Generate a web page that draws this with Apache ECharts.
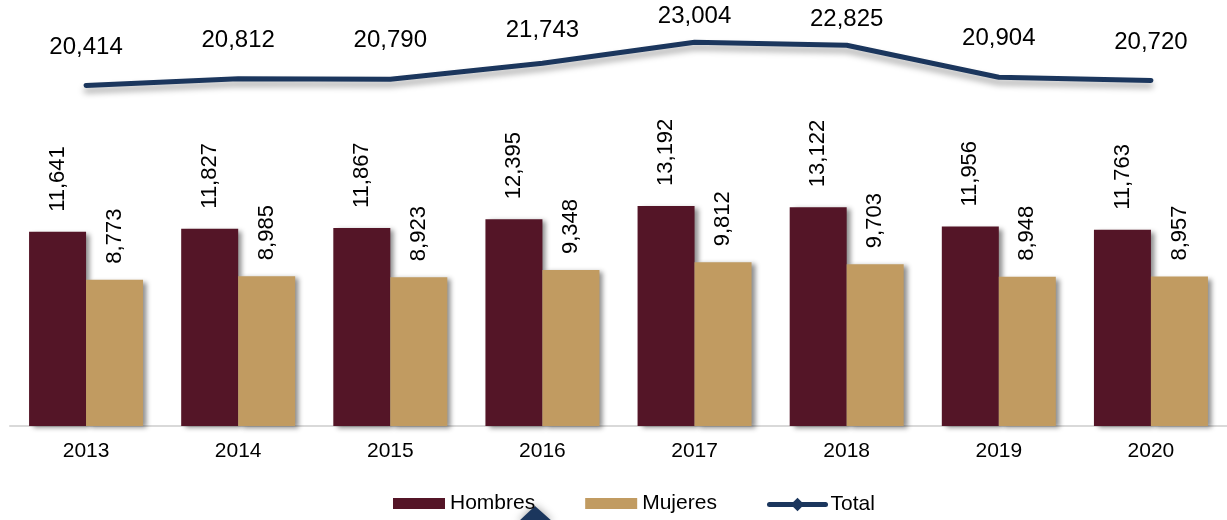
<!DOCTYPE html>
<html>
<head>
<meta charset="utf-8">
<script src="https://cdn.jsdelivr.net/npm/echarts@6/dist/echarts.min.js"></script>
<style>
    html, body { margin: 0; padding: 0; background: #fff; }
    #chart { width: 1227px; height: 520px; }
</style>
</head>
<body>
<div id="chart"></div>
<script>
// datos por año
var years = ['2013', '2014', '2015', '2016', '2017', '2018', '2019', '2020'];
var hombres = [11641, 11827, 11867, 12395, 13192, 13122, 11956, 11763];
var mujeres = [8773, 8985, 8923, 9348, 9812, 9703, 8948, 8957];
var total = [20414, 20812, 20790, 21743, 23004, 22825, 20904, 20720];

var fontFam = '"Liberation Sans", Arial, sans-serif';
var fmt = function (v) { return v.toLocaleString('en-US'); };

var barShadow = {
    shadowColor: 'rgba(0,0,0,0.45)',
    shadowBlur: 5,
    shadowOffsetX: 4,
    shadowOffsetY: 2
};

// etiquetas del total: las más altas quedan más cerca de la línea
var totalData = total.map(function (v) {
    var d = v > 22500 ? 13 : (v > 21500 ? 20 : 26);
    return { value: v, label: { distance: d } };
});

var myChart = echarts.init(document.getElementById('chart'));
var option = {
    animation: false,
    grid: { left: 10, top: 9, width: 1223, height: 417 },
    legend: [
        {
            left: 388,
            top: 488,
            itemWidth: 52,
            itemHeight: 11,
            itemGap: 50,
            icon: 'rect',
            textStyle: { fontFamily: fontFam, fontSize: 21, color: '#000' },
            data: ['Hombres', 'Mujeres']
        },
        {
            left: 762,
            top: 489,
            itemWidth: 56,
            itemHeight: 17,
            lineStyle: { width: 5 },
            textStyle: { fontFamily: fontFam, fontSize: 21, color: '#000' },
            data: ['Total']
        }
    ],
    xAxis: {
        type: 'category',
        data: years,
        axisTick: { show: false },
        axisLine: { lineStyle: { color: '#d9d9d9', width: 2 } },
        axisLabel: { fontFamily: fontFam, fontSize: 21, color: '#000', margin: 15 }
    },
    yAxis: {
        type: 'value',
        min: 0,
        max: 25000,
        show: false,
        splitLine: { show: false }
    },
    series: [
        {
            name: 'Hombres',
            type: 'bar',
            data: hombres,
            barWidth: 57,
            barGap: '0%',
            itemStyle: Object.assign({ color: '#541527' }, barShadow),
            label: {
                show: true,
                position: 'top',
                rotate: 90,
                align: 'left',
                verticalAlign: 'middle',
                distance: 15,
                offset: [5, 0],
                fontFamily: fontFam,
                fontSize: 22,
                color: '#000',
                formatter: function (p) { return fmt(p.value); }
            }
        },
        {
            name: 'Mujeres',
            type: 'bar',
            data: mujeres,
            barWidth: 57,
            barGap: '0%',
            itemStyle: Object.assign({ color: '#C19B61' }, barShadow),
            label: {
                show: true,
                position: 'top',
                rotate: 90,
                align: 'left',
                verticalAlign: 'middle',
                distance: 16,
                fontFamily: fontFam,
                fontSize: 22,
                color: '#000',
                formatter: function (p) { return fmt(p.value); }
            }
        },
        {
            name: 'Total',
            type: 'line',
            data: totalData,
            symbol: 'diamond',
            symbolSize: 1,
            itemStyle: { color: '#1B365D' },
            lineStyle: {
                color: '#1B365D',
                width: 5,
                cap: 'round',
                shadowColor: 'rgba(0,0,0,0.35)',
                shadowBlur: 6,
                shadowOffsetY: 5
            },
            label: {
                show: true,
                position: 'top',
                fontFamily: fontFam,
                fontSize: 24,
                color: '#000',
                formatter: function (p) { return fmt(p.value); }
            },
            z: 5
        }
    ],
    graphic: [
        {
            type: 'polygon',
            shape: { points: [[535, 506], [518, 522], [553, 522]] },
            style: {
                fill: '#1B365D',
                shadowColor: 'rgba(0,0,0,0.4)',
                shadowBlur: 8
            },
            z: 1
        }
    ]
};
myChart.setOption(option);
</script>
</body>
</html>
